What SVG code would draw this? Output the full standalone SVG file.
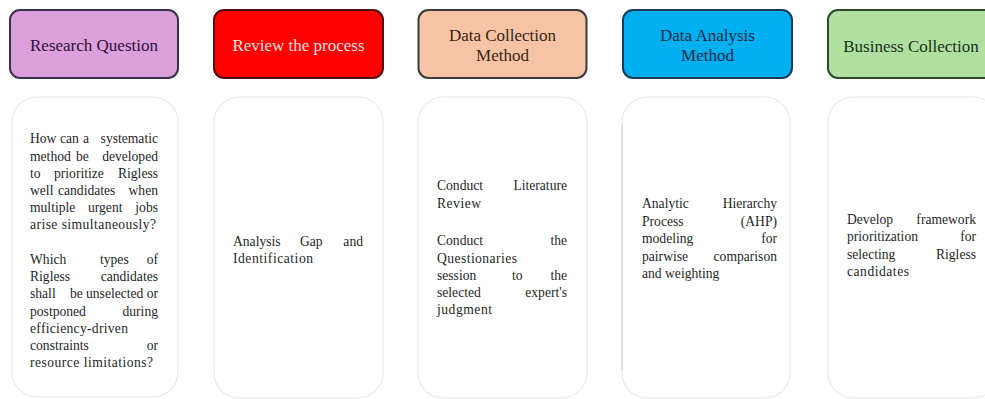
<svg xmlns="http://www.w3.org/2000/svg" width="985" height="399" viewBox="0 0 985 399">
<style>
.hdr{stroke-width:2}
.card{fill:#ffffff;stroke:#e4e4e4;stroke-width:1}
.ht{font-family:"Liberation Serif","Times New Roman",serif;font-size:17px;text-anchor:middle}
.bt{font-family:"Liberation Serif","Times New Roman",serif;font-size:13.6px;fill:#1f1f1f}
.e{text-anchor:end}
</style>
<rect width="985" height="399" fill="#ffffff"/>
<g id="connectors"/>

<g id="h1">
<rect class="hdr" x="10" y="10" width="168" height="68" rx="10" fill="#dca0dc" stroke="#3c3050"/>
<text class="ht" x="94" y="51" fill="#2e1038">Research Question</text>
</g>
<g id="h2">
<rect class="hdr" x="214" y="10" width="169" height="68" rx="10" fill="#ff0000" stroke="#4a1010"/>
<text class="ht" x="298.5" y="51" fill="#ffe2e2">Review the process</text>
</g>
<g id="h3">
<rect class="hdr" x="418.5" y="10" width="168" height="68" rx="10" fill="#f6c4a4" stroke="#3a3a3a"/>
<text class="ht" x="502.5" y="40.5" fill="#3a2418">Data Collection</text>
<text class="ht" x="502.5" y="61" fill="#3a2418">Method</text>
</g>
<g id="h4">
<rect class="hdr" x="623" y="10" width="169" height="68" rx="10" fill="#00b0f0" stroke="#1a3a5a"/>
<text class="ht" x="707.5" y="41" fill="#14264a">Data Analysis</text>
<text class="ht" x="707.5" y="61" fill="#14264a">Method</text>
</g>
<g id="h5">
<rect class="hdr" x="828" y="10" width="170" height="68" rx="10" fill="#b0e0a0" stroke="#2a4a2a"/>
<text class="ht" x="911" y="51.5" fill="#18301a">Business Collection</text>
</g>

<g id="b1">
<rect class="card" x="12" y="97" width="166" height="300" rx="25"/>
<text class="bt" x="30" y="143.3">How</text>
<text class="bt" x="60" y="143.3">can</text>
<text class="bt" x="83" y="143.3">a</text>
<text class="bt e" x="158" y="143.3">systematic</text>
<text class="bt" x="30" y="160.5">method</text>
<text class="bt" x="76" y="160.5">be</text>
<text class="bt e" x="158" y="160.5">developed</text>
<text class="bt" x="30" y="177.7">to</text>
<text class="bt" x="54" y="177.7">prioritize</text>
<text class="bt e" x="158" y="177.7">Rigless</text>
<text class="bt" x="30" y="194.9">well</text>
<text class="bt" x="58" y="194.9">candidates</text>
<text class="bt e" x="158" y="194.9">when</text>
<text class="bt" x="30" y="212.1">multiple</text>
<text class="bt" x="88" y="212.1">urgent</text>
<text class="bt e" x="158" y="212.1">jobs</text>
<text class="bt" x="30" y="229.3" textLength="126" lengthAdjust="spacing">arise simultaneously?</text>
<text class="bt" x="30" y="264">Which</text>
<text class="bt" x="100" y="264">types</text>
<text class="bt e" x="158" y="264">of</text>
<text class="bt" x="30" y="281.2">Rigless</text>
<text class="bt e" x="158" y="281.2">candidates</text>
<text class="bt" x="30" y="298.4">shall</text>
<text class="bt" x="70" y="298.4">be</text>
<text class="bt" x="86" y="298.4">unselected</text>
<text class="bt e" x="158" y="298.4">or</text>
<text class="bt" x="30" y="315.6">postponed</text>
<text class="bt e" x="158" y="315.6">during</text>
<text class="bt" x="30" y="332.8" textLength="98" lengthAdjust="spacing">efficiency-driven</text>
<text class="bt" x="30" y="350">constraints</text>
<text class="bt e" x="158" y="350">or</text>
<text class="bt" x="30" y="367.2" textLength="123" lengthAdjust="spacing">resource limitations?</text>
</g>

<g id="b2">
<rect class="card" x="214" y="97" width="169" height="301" rx="25"/>
<text class="bt" x="233" y="245.5">Analysis</text>
<text class="bt" x="300" y="245.5">Gap</text>
<text class="bt e" x="363" y="245.5">and</text>
<text class="bt" x="233" y="262.7" textLength="80" lengthAdjust="spacing">Identification</text>
</g>

<g id="b3">
<rect class="card" x="418" y="97" width="169" height="301" rx="25"/>
<text class="bt" x="437" y="190">Conduct</text>
<text class="bt e" x="567" y="190">Literature</text>
<text class="bt" x="437" y="208" textLength="44" lengthAdjust="spacing">Review</text>
<text class="bt" x="437" y="245">Conduct</text>
<text class="bt e" x="567" y="245">the</text>
<text class="bt" x="437" y="262.6" textLength="80" lengthAdjust="spacing">Questionaries</text>
<text class="bt" x="437" y="280">session</text>
<text class="bt" x="512" y="280">to</text>
<text class="bt e" x="567" y="280">the</text>
<text class="bt" x="437" y="297.3">selected</text>
<text class="bt e" x="567" y="297.3">expert's</text>
<text class="bt" x="437" y="314.3" textLength="55" lengthAdjust="spacing">judgment</text>
</g>

<g id="b4">
<rect class="card" x="622" y="97" width="168" height="301" rx="25"/>
<line x1="622" y1="125" x2="622" y2="370" stroke="#d0d0d0" stroke-width="1"/>
<text class="bt" x="642" y="208.3">Analytic</text>
<text class="bt e" x="777" y="208.3">Hierarchy</text>
<text class="bt" x="642" y="225.7">Process</text>
<text class="bt e" x="777" y="225.7">(AHP)</text>
<text class="bt" x="642" y="243.2">modeling</text>
<text class="bt e" x="777" y="243.2">for</text>
<text class="bt" x="642" y="260.6">pairwise</text>
<text class="bt e" x="777" y="260.6">comparison</text>
<text class="bt" x="642" y="277.8">and weighting</text>
</g>

<g id="b5">
<rect class="card" x="828" y="97" width="170" height="301" rx="25"/>
<text class="bt" x="847" y="224">Develop</text>
<text class="bt e" x="976" y="224">framework</text>
<text class="bt" x="847" y="241.3">prioritization</text>
<text class="bt e" x="976" y="241.3">for</text>
<text class="bt" x="847" y="258.6">selecting</text>
<text class="bt e" x="976" y="258.6">Rigless</text>
<text class="bt" x="847" y="276" textLength="62" lengthAdjust="spacing">candidates</text>
</g>
</svg>
